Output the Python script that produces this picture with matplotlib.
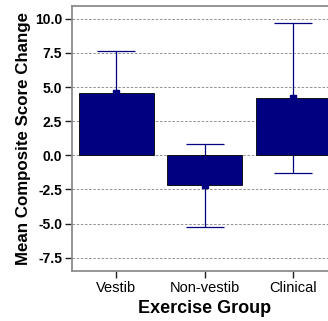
import numpy as np
import matplotlib
matplotlib.use('Agg')
import matplotlib.pyplot as plt

plt.rcParams['font.family'] = ['Liberation Sans', 'DejaVu Sans']

# Data
groups = ['Vestib', 'Non-vestib', 'Clinical']
means = [4.58, -2.19, 4.21]
upper_err = [3.03, 3.04, 5.50]
lower_err = [3.03, 3.04, 5.50]
y_ticks = [-7.5, -5.0, -2.5, 0.0, 2.5, 5.0, 7.5, 10.0]

NAVY = '#000080'
GREY = '#8c8c8c'

fig = plt.figure(figsize=(3.28, 3.21), dpi=100)
ax = fig.add_axes([0.2195, 0.1558, 0.809, 0.8255])

x = np.arange(len(groups))
ax.errorbar(x, means, yerr=[lower_err, upper_err], fmt='none',
            ecolor=NAVY, elinewidth=0.9, capsize=13.7, capthick=0.9, zorder=2)
ax.bar(x, means, width=0.85, color=NAVY, edgecolor='black', linewidth=0.6, zorder=3)
ax.plot(x, means, linestyle='none', marker='s', markersize=4,
        color=NAVY, zorder=4)

ax.set_xlim(-0.5, 2.5)
ax.set_ylim(-8.47, 10.93)
ax.set_yticks(y_ticks)
ax.set_yticklabels([f'{v:.1f}' for v in y_ticks], fontsize=10, fontweight='bold')
ax.set_xticks(x)
ax.set_xticklabels(groups, fontsize=10.5)
ax.yaxis.grid(True, linestyle=(0, (3, 2)), color='#808080', linewidth=0.6)
ax.set_axisbelow(True)

for s in ['left', 'top', 'bottom']:
    ax.spines[s].set_color(GREY)
    ax.spines[s].set_linewidth(1.3)
ax.spines['right'].set_visible(False)
ax.tick_params(axis='both', direction='out', length=5, width=1, color='#202020', pad=2)

ax.set_xlabel('Exercise Group', fontsize=13, fontweight='bold', labelpad=4)
ax.set_ylabel('Mean Composite Score Change', fontsize=12.2, fontweight='bold', labelpad=3)

fig.savefig('out.png', dpi=100)
